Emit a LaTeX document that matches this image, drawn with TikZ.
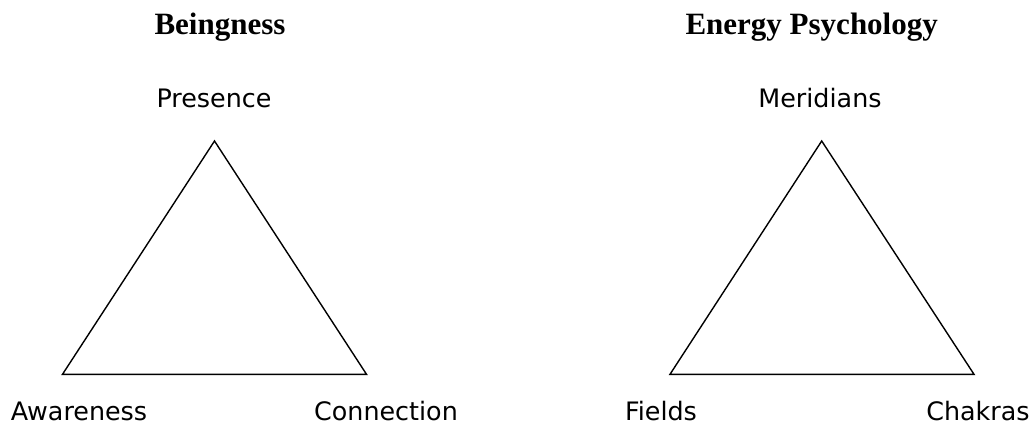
\documentclass[tikz,border=0pt]{standalone}
\usepackage{fontspec}
\setmainfont{Liberation Serif}
\newfontfamily\labelfont{DejaVu Sans}
\tikzset{
  title/.style={anchor=base, inner sep=0pt, font=\fontsize{31}{36}\selectfont\bfseries},
  corner/.style={anchor=base, inner sep=0pt, font=\labelfont\fontsize{25.4}{30}\selectfont},
  side/.style={line width=1.4pt, line join=miter}
}
\begin{document}
\begin{tikzpicture}[x=1pt, y=-1pt]
  \useasboundingbox (0,0) rectangle (1034,423);

  % Left: Beingness
  \node[title] (beingness) at (220, 34.7) {Beingness};
  \coordinate (ltop) at (214.5, 141);
  \coordinate (lleft) at (62.5, 374.3);
  \coordinate (lright) at (366.5, 374.3);
  \draw[side] (ltop) -- (lleft) -- (lright) -- cycle;
  \node[corner] (presence) at (214, 107) {Presence};
  \node[corner] (awareness) at (79, 420) {Awareness};
  \node[corner] (connection) at (386, 420) {Connection};

  % Right: Energy Psychology
  \node[title] (energy) at (811.7, 34.7) {Energy Psychology};
  \coordinate (rtop) at (821.7, 141);
  \coordinate (rleft) at (670, 374.3);
  \coordinate (rright) at (974, 374.3);
  \draw[side] (rtop) -- (rleft) -- (rright) -- cycle;
  \node[corner] (meridians) at (820, 107) {Meridians};
  \node[corner] (fields) at (661, 420) {Fields};
  \node[corner] (chakras) at (978, 420) {Chakras};

\end{tikzpicture}
\end{document}
